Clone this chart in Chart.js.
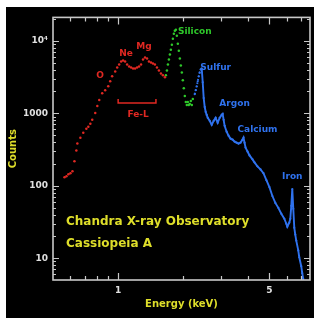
<!DOCTYPE html>
<html>
<head>
<meta charset="utf-8">
<script src="https://cdn.jsdelivr.net/npm/chart.js@4.4.1/dist/chart.umd.min.js"></script>
<style>
  html, body { margin: 0; padding: 0; background: #ffffff; }
  #wrap { position: absolute; left: 6px; top: 7px; width: 308px; height: 311px; background: #000000; }
  canvas { display: block; }
</style>
</head>
<body>
<div id="wrap"><canvas id="c" width="308" height="311"></canvas></div>
<script>
// ---- data ----
const redEnergy = [0.565,0.577,0.589,0.602,0.615,0.628,0.641,0.648,0.669,0.690,0.713,0.728,0.744,0.759,0.784,0.801,0.818,0.844,0.871,0.900,0.919,0.938,0.969,0.990,1.011,1.032,1.054,1.077,1.100,1.124,1.148,1.172,1.197,1.223,1.249,1.276,1.303,1.331,1.360,1.388,1.418,1.448,1.479,1.511,1.543,1.577,1.610,1.645];
const redCounts = [131,135,144,149,158,217,306,381,460,538,611,650,714,811,1009,1259,1518,1892,2078,2357,2758,3228,3776,4285,4707,5170,5336,5170,4707,4418,4285,4150,4150,4285,4418,4707,5508,5863,5680,5170,5010,4856,4707,4285,3899,3546,3331,3127];

const greenEnergy = [1.662,1.680,1.698,1.716,1.734,1.752,1.771,1.790,1.809,1.828,1.848,1.867,1.887,1.907,1.928,1.948,1.969,1.990,2.011,2.032,2.054,2.076,2.098,2.120,2.143,2.166,2.189,2.213];
const greenCounts = [3331,3899,4707,5508,6442,7537,8817,10650,12460,13700,14130,11700,9100,7306,5680,4561,3660,2847,2214,1722,1426,1297,1426,1297,1340,1472,1297,1567];

const blueEnergy = [2.259,2.283,2.307,2.332,2.357,2.382,2.408,2.433,2.459,2.485,2.512,2.539,2.566,2.594,2.649,2.706,2.763,2.822,2.883,2.944,3.008,3.040,3.072,3.105,3.171,3.238,3.307,3.379,3.451,3.525,3.600,3.677,3.756,3.796,3.837,3.878,3.961,4.046,4.176,4.265,4.403,4.546,4.692,4.843,5.000,5.161,5.326,5.498,5.675,5.859,5.984,6.048,6.177,6.244,6.310,6.377,6.445,6.514,6.583,6.653,6.796,6.868,7.015,7.089,7.166];
const blueCounts = [1833,2078,2357,2758,3228,3660,4018,4150,2673,1617,1219,1042,949,863,785,692,785,863,738,863,949,978,811,671,556,490,446,432,406,393,381,393,432,460,393,336,296,262,231,210,185,168,149,119,95.7,72.1,57.9,49.5,41.0,35.0,29.9,27.2,30.9,35.0,52.7,89.9,48.0,26.4,21.2,17.5,12.8,10.3,7.75,6.22,5.15];

const xTickValues = [1, 5];
const xTickLabels = ['1', '5'];
const xMinorTicks = [0.6, 0.7, 0.8, 0.9, 2, 3, 4, 6, 7];
const yTickValues = [10, 100, 1000, 10000];
const yTickLabels = ['10', '100', '1000', '10\u2074'];
const yMinorTicks = [6,7,8,9, 20,30,40,50,60,70,80,90, 200,300,400,500,600,700,800,900, 2000,3000,4000,5000,6000,7000,8000,9000, 20000];

// line labels: text, energy, counts (anchor), colour key
const lineLabels = ['O', 'Ne', 'Mg', 'Fe-L', 'Silicon', 'Sulfur', 'Argon', 'Calcium', 'Iron'];
const lineLabelEnergy = [0.826, 1.088, 1.317, 1.236, 2.259, 2.822, 3.451, 4.403, 6.377];
const lineLabelCounts = [3331, 6651, 8282, 949, 13270, 4285, 1340, 592, 135];
const lineLabelGroup = ['red','red','red','red','green','blue','blue','blue','blue'];
const bracketEnergy = [1.0, 1.495];
const bracketCounts = [1567, 1382];

const titleLines = ['Chandra X-ray Observatory', 'Cassiopeia A'];

// ---- styles ----
const COLORS = { red: '#e02822', green: '#2ec82a', blue: '#2f72ee' };
const YELLOW = '#dede2a';
const AXIS = '#c8c8c8';
const TICKTXT = '#e0e0e0';
const BOLD = '"DejaVu Sans", sans-serif';
const DOTTED_BLUE_SEGMENTS = 7;

function pts(xs, ys) { return xs.map((x, i) => ({ x: x, y: ys[i] })); }

const decorations = {
  id: 'decorations',
  afterDatasetsDraw(chart) {
    const ctx = chart.ctx;
    const xs = chart.scales.x, ys = chart.scales.y;
    const a = chart.chartArea;
    ctx.save();
    // frame
    ctx.strokeStyle = AXIS;
    ctx.lineWidth = 1.6;
    ctx.strokeRect(a.left, a.top, a.right - a.left, a.bottom - a.top);
    // ticks
    ctx.lineWidth = 1.2;
    function tx(v, len) {
      const p = Math.round(xs.getPixelForValue(v)) + 0.5;
      ctx.beginPath();
      ctx.moveTo(p, a.bottom); ctx.lineTo(p, a.bottom - len);
      ctx.moveTo(p, a.top); ctx.lineTo(p, a.top + len);
      ctx.stroke();
    }
    function ty(v, len) {
      const p = Math.round(ys.getPixelForValue(v)) + 0.5;
      ctx.beginPath();
      ctx.moveTo(a.left, p); ctx.lineTo(a.left + len, p);
      ctx.moveTo(a.right, p); ctx.lineTo(a.right - len, p);
      ctx.stroke();
    }
    xTickValues.forEach(v => tx(v, 7));
    xMinorTicks.forEach(v => tx(v, 4));
    yTickValues.forEach(v => ty(v, 6));
    yMinorTicks.forEach(v => ty(v, 3));

    // line labels
    ctx.font = 'bold 9px ' + BOLD;
    ctx.textAlign = 'center';
    ctx.textBaseline = 'middle';
    lineLabels.forEach((t, i) => {
      ctx.fillStyle = COLORS[lineLabelGroup[i]];
      ctx.fillText(t, xs.getPixelForValue(lineLabelEnergy[i]), ys.getPixelForValue(lineLabelCounts[i]));
    });
    // Fe-L bracket
    const bx0 = xs.getPixelForValue(bracketEnergy[0]);
    const bx1 = xs.getPixelForValue(bracketEnergy[1]);
    const by0 = ys.getPixelForValue(bracketCounts[0]);
    const by1 = ys.getPixelForValue(bracketCounts[1]);
    ctx.strokeStyle = COLORS.red;
    ctx.lineWidth = 1.5;
    ctx.beginPath();
    ctx.moveTo(bx0, by0); ctx.lineTo(bx0, by1); ctx.lineTo(bx1, by1); ctx.lineTo(bx1, by0);
    ctx.stroke();

    // title text inside plot
    ctx.font = 'bold 12px ' + BOLD;
    ctx.textAlign = 'left';
    ctx.fillStyle = YELLOW;
    ctx.fillText(titleLines[0], a.left + 13, a.top + 204);
    ctx.fillText(titleLines[1], a.left + 13, a.top + 226);
    ctx.restore();
  }
};

new Chart(document.getElementById('c'), {
  type: 'scatter',
  data: {
    datasets: [
      { data: pts(redEnergy, redCounts), showLine: false, pointRadius: 1.25, pointBorderWidth: 0, backgroundColor: COLORS.red, borderColor: COLORS.red },
      { data: pts(greenEnergy, greenCounts), showLine: false, pointRadius: 1.25, pointBorderWidth: 0, backgroundColor: COLORS.green, borderColor: COLORS.green },
      { data: pts(blueEnergy, blueCounts), showLine: true, borderWidth: 1.9, pointRadius: 1.1, pointBorderWidth: 0, backgroundColor: COLORS.blue, borderColor: COLORS.blue, tension: 0,
        segment: { borderDash: c => c.p0DataIndex < DOTTED_BLUE_SEGMENTS ? [1.5, 2] : undefined } }
    ]
  },
  options: {
    responsive: false,
    animation: false,
    layout: { padding: { left: 0, right: 3, top: 7, bottom: 0 } },
    plugins: { legend: { display: false }, tooltip: { enabled: false } },
    scales: {
      x: {
        type: 'logarithmic', position: 'bottom', min: 0.5, max: 7.7,
        grid: { display: false, drawTicks: false }, border: { display: false },
        afterBuildTicks: s => { s.ticks = xTickValues.map(v => ({ value: v })); },
        afterFit: s => { s.height = 38; },
        ticks: {
          color: TICKTXT, padding: 5, autoSkip: false, maxRotation: 0,
          font: { family: BOLD, weight: 'bold', size: 9 },
          callback: v => { const i = xTickValues.indexOf(v); return i >= 0 ? xTickLabels[i] : ''; }
        },
        title: { display: true, text: 'Energy (keV)', color: YELLOW, font: { family: BOLD, weight: 'bold', size: 10 }, padding: { top: 0, bottom: 8 } }
      },
      y: {
        type: 'logarithmic', position: 'left', min: 5, max: 21000,
        grid: { display: false, drawTicks: false }, border: { display: false },
        afterBuildTicks: s => { s.ticks = yTickValues.map(v => ({ value: v })); },
        afterFit: s => { s.width = 47; },
        ticks: {
          color: TICKTXT, padding: 5, autoSkip: false,
          font: { family: BOLD, weight: 'bold', size: 9 },
          callback: v => { const i = yTickValues.indexOf(v); return i >= 0 ? yTickLabels[i] : ''; }
        },
        title: { display: true, text: 'Counts', color: YELLOW, font: { family: BOLD, weight: 'bold', size: 10 }, padding: { top: 1, bottom: 0 } }
      }
    }
  },
  plugins: [decorations]
});
</script>
</body>
</html>
